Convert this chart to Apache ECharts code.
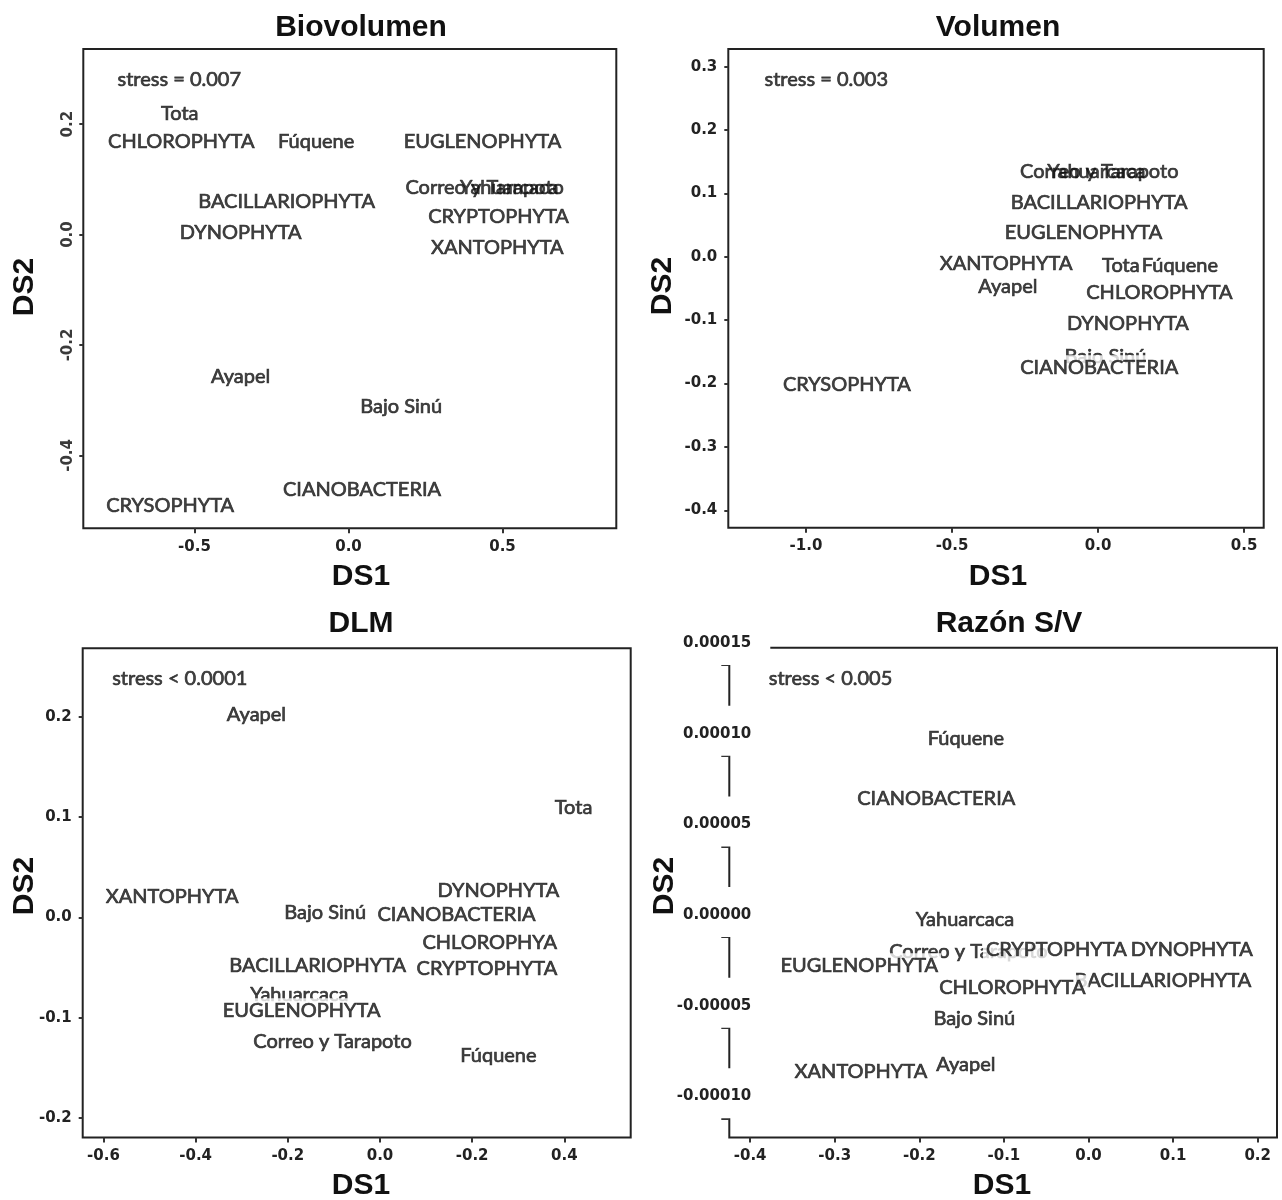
<!DOCTYPE html>
<html><head><meta charset="utf-8">
<script src="https://cdn.jsdelivr.net/npm/echarts@6/dist/echarts.min.js"></script>
<style>html,body{margin:0;padding:0;background:#fff}#c{width:1282px;height:1200px}</style>
</head><body><div id="c"></div>
<script>
// ---------- Panel 1: Biovolumen ----------
const bioNames = ['Tota','CHLOROPHYTA','Fúquene','EUGLENOPHYTA','Correo y Tarapoto','Yahuarcaca','BACILLARIOPHYTA','CRYPTOPHYTA','DYNOPHYTA','XANTOPHYTA','Ayapel','Bajo Sinú','CIANOBACTERIA','CRYSOPHYTA'];
const bioDS1 = [-0.548,-0.543,-0.105,0.435,0.442,0.522,-0.201,0.487,-0.350,0.483,-0.350,0.171,0.044,-0.579];
const bioDS2 = [0.219,0.169,0.169,0.169,0.086,0.086,0.059,0.032,0.004,-0.023,-0.258,-0.311,-0.462,-0.490];
const bioXTicks = [-0.5,0,0.5];
const bioXLabels = ['-0.5','0.0','0.5'];
const bioYTicks = [-0.4,-0.2,0,0.2];
const bioYLabels = ['-0.4','-0.2','0.0','0.2'];
const bioStress = 'stress = 0.007';

// ---------- Panel 2: Volumen ----------
const volNames = ['Correo y Tarapoto','Yahuarcaca','BACILLARIOPHYTA','EUGLENOPHYTA','XANTOPHYTA','Tota','Fúquene','Ayapel','CHLOROPHYTA','DYNOPHYTA','Bajo Sinú','CIANOBACTERIA','CRYSOPHYTA'];
const volDS1 = [0.004,-0.006,0.004,-0.050,-0.315,0.078,0.280,-0.309,0.210,0.102,0.025,0.004,-0.860];
const volDS2 = [0.134,0.134,0.086,0.038,-0.011,-0.013,-0.013,-0.047,-0.057,-0.105,-0.158,-0.175,-0.201];
const volXTicks = [-1.0,-0.5,0,0.5];
const volXLabels = ['-1.0','-0.5','0.0','0.5'];
const volYTicks = [-0.4,-0.3,-0.2,-0.1,0,0.1,0.2,0.3];
const volYLabels = ['-0.4','-0.3','-0.2','-0.1','0.0','0.1','0.2','0.3'];
const volStress = 'stress = 0.003';

// ---------- Panel 3: DLM ----------
const dlmNames = ['Ayapel','Tota','XANTOPHYTA','DYNOPHYTA','Bajo Sinú','CIANOBACTERIA','CHLOROPHYA','BACILLARIOPHYTA','CRYPTOPHYTA','Yahuarcaca','EUGLENOPHYTA','Correo y Tarapoto','Fúquene'];
const dlmDS1 = [-0.268,0.420,-0.451,0.257,-0.119,0.166,0.238,-0.135,0.232,-0.175,-0.170,-0.103,0.257];
const dlmDS2 = [0.202,0.110,0.021,0.027,0.005,0.003,-0.025,-0.048,-0.051,-0.077,-0.093,-0.124,-0.138];
const dlmXTicks = [-0.6,-0.4,-0.2,0,0.2,0.4];
const dlmXLabels = ['-0.6','-0.4','-0.2','0.0','-0.2','0.4'];
const dlmYTicks = [-0.2,-0.1,0,0.1,0.2];
const dlmYLabels = ['-0.2','-0.1','0.0','0.1','0.2'];
const dlmStress = 'stress < 0.0001';

// ---------- Panel 4: Razón S/V ----------
const svNames = ['Fúquene','CIANOBACTERIA','Yahuarcaca','Correo y Tarapoto','CRYPTOPHYTA','DYNOPHYTA','EUGLENOPHYTA','BACILLARIOPHYTA','CHLOROPHYTA','Bajo Sinú','XANTOPHYTA','Ayapel'];
const svDS1 = [-0.145,-0.180,-0.146,-0.142,-0.038,0.122,-0.271,0.088,-0.090,-0.135,-0.269,-0.145];
const svDS2 = [0.0001094,0.0000764,0.0000094,-0.0000081,-0.0000068,-0.0000068,-0.0000159,-0.0000240,-0.0000280,-0.0000449,-0.0000741,-0.0000703];
const svXTicks = [-0.4,-0.3,-0.2,-0.1,0,0.1,0.2];
const svXLabels = ['-0.4','-0.3','-0.2','-0.1','0.0','0.1','0.2'];
const svYTicks = [-0.0001,-0.00005,0,0.00005,0.0001,0.00015];
const svYLabels = ['-0.00010','-0.00005','0.00000','0.00005','0.00010','0.00015'];
const svStress = 'stress < 0.005';

const titles = ['Biovolumen','Volumen','DLM','Razón S/V'];

// ---------- layout / style ----------
const panels = [
  {grid:{left:83.3,top:49,width:533,height:479.3}, xr:[-0.861,0.8695], yr:[-0.532,0.336],
   names:bioNames, xs:bioDS1, ys:bioDS2, xt:bioXTicks, xl:bioXLabels, yt:bioYTicks, yl:bioYLabels,
   stress:bioStress, sPos:[-0.750,0.280], bg:[], rotY:true,
   title:[361,28], ds1:[361,577], ds2:[25,287]},
  {grid:{left:728.3,top:49,width:535.4,height:478.7}, xr:[-1.266,0.567], yr:[-0.4273,0.3278],
   names:volNames, xs:volDS1, ys:volDS2, xt:volXTicks, xl:volXLabels, yt:volYTicks, yl:volYLabels,
   stress:volStress, sPos:[-1.142,0.279], bg:['CIANOBACTERIA'],
   title:[998,28], ds1:[998,577], ds2:[663,286]},
  {grid:{left:82.7,top:648.3,width:548,height:489.2}, xr:[-0.645,0.544], yr:[-0.2195,0.2685],
   names:dlmNames, xs:dlmDS1, ys:dlmDS2, xt:dlmXTicks, xl:dlmXLabels, yt:dlmYTicks, yl:dlmYLabels,
   stress:dlmStress, sPos:[-0.581,0.238], bg:'all',
   title:[361,624], ds1:[361,1186], ds2:[25,886]},
  {grid:{left:729.3,top:647.7,width:547.7,height:489.8}, xr:[-0.4246,0.2228], yr:[-0.0001106,0.0001596],
   names:svNames, xs:svDS1, ys:svDS2, xt:svXTicks, xl:svXLabels, yt:svYTicks, yl:svYLabels,
   stress:svStress, sPos:[-0.378,0.0001426], bg:'all', boxedY:true,
   title:[1009,624], ds1:[1002,1186], ds2:[665,886]}
];

const tickFont = {fontFamily:'DejaVu Sans', fontWeight:'bold', fontSize:15, color:'#222'};
const labFont = {fontFamily:'Lato', fontSize:20, color:'#141414', textBorderColor:'#141414', textBorderWidth:0.7};

function fmt(ticks, labels){
  return function(v){
    for (let i=0;i<ticks.length;i++){ if (Math.abs(ticks[i]-v) < 1e-12) return labels[i]; }
    return '';
  };
}

const option = {
  backgroundColor:'#fff', animation:false,
  grid:[], xAxis:[], yAxis:[], series:[], graphic:[]
};

panels.forEach((p,i)=>{
  option.grid.push(Object.assign({show:true, borderColor:'#222', borderWidth:2, backgroundColor:'transparent', containLabel:false, outerBoundsMode:'none'}, p.grid));
  option.xAxis.push({
    type:'value', gridIndex:i, min:p.xr[0], max:p.xr[1], position:'bottom',
    axisLine:{show:false, onZero:false}, splitLine:{show:false},
    axisTick:{show:true, customValues:p.xt, length:5, lineStyle:{color:'#333', width:2}},
    axisLabel:Object.assign({customValues:p.xt, formatter:fmt(p.xt,p.xl), margin:11}, tickFont)
  });
  const ya = {
    type:'value', gridIndex:i, min:p.yr[0], max:p.yr[1], position:'left',
    axisLine:{show:false, onZero:false}, splitLine:{show:false},
    axisTick:{show:true, customValues:p.yt, length:p.boxedY?8:4, lineStyle:{color:'#333', width:2}},
    axisLabel:Object.assign({customValues:p.yt, formatter:fmt(p.yt,p.yl), margin:p.rotY?8:11}, tickFont)
  };
  if (p.rotY){ ya.axisLabel.rotate = 90; ya.axisLabel.color = '#3a3a3a'; }
  if (p.boxedY){
    ya.z = 10;
    Object.assign(ya.axisLabel, {verticalAlign:'bottom', lineHeight:18, padding:[19,19,13,6], backgroundColor:'#fff', margin:-41});
  }
  option.yAxis.push(ya);

  const data = p.names.map((n,k)=>{
    const item = {name:n, value:[p.xs[k], p.ys[k]]};
    if (p.bg === 'all' || p.bg.indexOf(n) >= 0){
      item.label = {backgroundColor:'#fff', padding:[4,3,1,3]};
    }
    return item;
  });
  option.series.push({
    type:'scatter', xAxisIndex:i, yAxisIndex:i, symbolSize:1, silent:true,
    itemStyle:{color:'rgba(0,0,0,0)'},
    label:Object.assign({show:true, position:'inside', formatter:'{b}'}, labFont),
    emphasis:{disabled:true}, data:data
  });
  option.series.push({
    type:'scatter', xAxisIndex:i, yAxisIndex:i, symbolSize:1, silent:true,
    itemStyle:{color:'rgba(0,0,0,0)'},
    label:Object.assign({show:true, position:'inside', align:'left', formatter:'{b}'}, labFont),
    emphasis:{disabled:true}, data:[{name:p.stress, value:p.sPos}]
  });

  option.graphic.push({type:'text', x:p.title[0], y:p.title[1], style:{text:titles[i], font:'bold 30px "Liberation Sans", Arial, sans-serif', fill:'#111', align:'center', verticalAlign:'middle'}});
  option.graphic.push({type:'text', x:p.ds1[0], y:p.ds1[1], style:{text:'DS1', font:'bold 30px "Liberation Sans", Arial, sans-serif', fill:'#111', align:'center', verticalAlign:'middle'}});
  option.graphic.push({type:'text', x:p.ds2[0], y:p.ds2[1], rotation:Math.PI/2, style:{text:'DS2', font:'bold 30px "Liberation Sans", Arial, sans-serif', fill:'#111', align:'center', verticalAlign:'middle'}});
});

const chart = echarts.init(document.getElementById('c'));
chart.setOption(option);
</script>
</body></html>
